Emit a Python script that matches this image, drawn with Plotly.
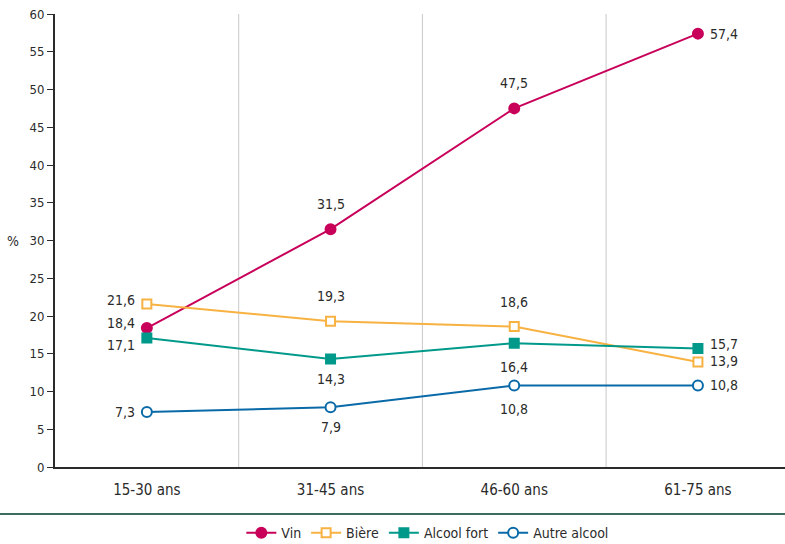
import plotly.graph_objects as go

categories = ["15-30 ans", "31-45 ans", "46-60 ans", "61-75 ans"]
vin = [18.4, 31.5, 47.5, 57.4]
biere = [21.6, 19.3, 18.6, 13.9]
alcool_fort = [17.1, 14.3, 16.4, 15.7]
autre_alcool = [7.3, 7.9, 10.8, 10.8]
y_ticks = list(range(0, 61, 5))

FONT = "Liberation Sans Narrow, DejaVu Sans Condensed, sans-serif"
TXT = "#2b2b2b"

def fmt(v):
    return f"{v:.1f}".replace(".", ",")

# label placement per point: (xanchor, yanchor, xshift, yshift)
L = ("right", "middle", -10, 0)
T = ("center", "bottom", 0, 15)
B = ("center", "top", 0, -10)
R = ("left", "middle", 10, 0)

series = [
    ("Vin", vin, "#c8005a", "circle", False,
     [("right", "middle", -10, 5), T, T, R]),
    ("Bière", biere, "#f7b242", "square", True,
     [("right", "middle", -10, 4), T, T, ("left", "middle", 10, 1)]),
    ("Alcool fort", alcool_fort, "#00998a", "square", False,
     [("right", "middle", -10, -7), B, ("center", "top", 0, -14), ("left", "middle", 10, 4)]),
    ("Autre alcool", autre_alcool, "#0a6aa8", "circle", True,
     [L, B, ("center", "top", 0, -14), R]),
]

x = list(range(len(categories)))
fig = go.Figure()
annotations = []
for name, vals, col, sym, hollow, pos in series:
    fig.add_trace(go.Scatter(
        x=x, y=vals, name=name, mode="lines+markers",
        line=dict(color=col, width=2),
        marker=dict(symbol=sym, size=10 if sym == "circle" else 9,
                    color="white" if hollow else col,
                    line=dict(color=col, width=2)),
        cliponaxis=False,
    ))
    for xi, v, (xa, ya, xs, ys) in zip(x, vals, pos):
        annotations.append(dict(x=xi, y=v, xref="x", yref="y", text=fmt(v), showarrow=False,
                                xanchor=xa, yanchor=ya, xshift=xs, yshift=ys,
                                font=dict(family=FONT, size=14, color=TXT)))

shapes = []
for gx in [0.5, 1.5, 2.5]:
    shapes.append(dict(type="line", xref="x", yref="paper", x0=gx, x1=gx, y0=0, y1=1,
                       line=dict(color="#c8c8c8", width=1), layer="below"))
shapes.append(dict(type="line", xref="paper", yref="paper", x0=-0.08, x1=1.01, y0=-0.104, y1=-0.104,
                   line=dict(color="#3d6b5e", width=2)))

annotations.append(dict(text="%", xref="paper", yref="paper", x=-0.058, y=0.5, showarrow=False,
                        font=dict(family=FONT, size=14, color=TXT), xanchor="center"))

fig.update_layout(
    width=785, height=544,
    margin=dict(l=55, r=0, t=14, b=77, autoexpand=False),
    plot_bgcolor="white", paper_bgcolor="white",
    font=dict(family=FONT, size=14, color=TXT),
    showlegend=True,
    legend=dict(orientation="h", x=0.545, xanchor="center", y=0.02, yanchor="middle",
                yref="container", xref="container",
                font=dict(family=FONT, size=14, color=TXT), itemwidth=30),
    xaxis=dict(tickvals=x, ticktext=categories, range=[-0.5, 3.474],
               showgrid=False, zeroline=False, showline=True, linecolor="#2b2b2b", linewidth=2,
               ticks="", ticklabelstandoff=8, tickfont=dict(family=FONT, size=15, color=TXT)),
    yaxis=dict(range=[0, 60], tickvals=y_ticks, showgrid=False, zeroline=False,
               showline=True, linecolor="#2b2b2b", linewidth=2, ticks="outside", ticklen=6,
               tickcolor="#2b2b2b", tickfont=dict(family=FONT, size=13, color=TXT)),
    shapes=shapes,
    annotations=annotations,
)

fig.write_html("out.html")
